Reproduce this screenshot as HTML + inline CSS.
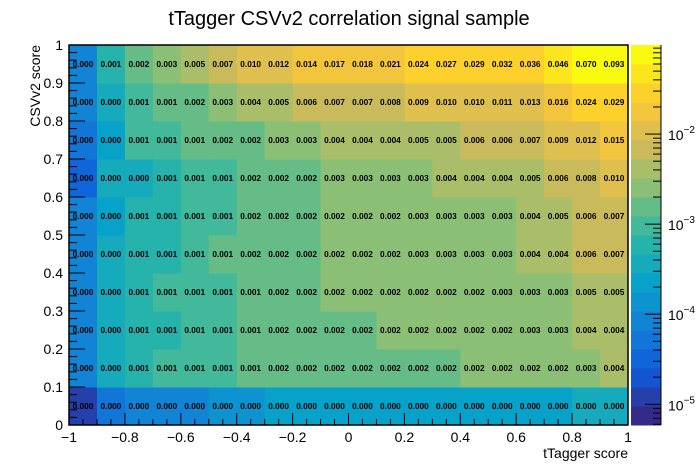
<!DOCTYPE html>
<html><head><meta charset="utf-8"><style>
html,body{margin:0;padding:0;background:#fff;}
svg{display:block;font-family:"Liberation Sans",sans-serif;}
</style></head><body>
<svg id="c" width="698" height="473"></svg>
<script>
const xEdges=[-1,-0.9,-0.8,-0.7,-0.6,-0.5,-0.4,-0.3,-0.2,-0.1,0,0.1,0.2,0.3,0.4,0.5,0.6,0.7,0.8,0.9,1];
const yEdges=[0,0.1,0.2,0.3,0.4,0.5,0.6,0.7,0.8,0.9,1];
const row0=[1.2e-5,5e-5,7e-5,8e-5,9e-5,1.3e-4,1.5e-4,1.8e-4,1.9e-4,2e-4,2e-4,2.2e-4,2.2e-4,2.2e-4,2.2e-4,2.2e-4,2.2e-4,2.2e-4,3e-4,3e-4];
const row1=[8e-5,3e-4,6e-4,8e-4,9e-4,1.0e-3,1.3e-3,1.6e-3,1.7e-3,1.8e-3,1.9e-3,1.9e-3,1.9e-3,2.0e-3,2.2e-3,2.2e-3,2.2e-3,2.4e-3,3e-3,3.6e-3];
const row2=[8e-5,3e-4,6e-4,7e-4,9e-4,1.2e-3,1.4e-3,1.6e-3,1.7e-3,1.8e-3,1.9e-3,2.2e-3,2.2e-3,2.2e-3,2.2e-3,2.3e-3,2.6e-3,3e-3,3.6e-3,4e-3];
const row3=[8e-5,3e-4,6e-4,8e-4,9e-4,1.2e-3,1.4e-3,1.6e-3,1.7e-3,2.1e-3,2.2e-3,2.2e-3,2.2e-3,2.3e-3,2.4e-3,2.6e-3,2.7e-3,3e-3,5e-3,5e-3];
const row4=[8e-5,3e-4,6e-4,7e-4,9e-4,1.3e-3,1.6e-3,1.6e-3,2e-3,2.2e-3,2.2e-3,2.4e-3,2.5e-3,2.6e-3,3e-3,3e-3,4e-3,4e-3,6e-3,7e-3];
const row5=[8e-5,2e-4,6e-4,7e-4,9e-4,1.2e-3,1.6e-3,1.6e-3,1.8e-3,2.1e-3,2.2e-3,2.3e-3,2.6e-3,2.8e-3,3e-3,3e-3,4e-3,5e-3,6e-3,7e-3];
const row6=[3e-5,3e-4,4e-4,7e-4,1.0e-3,1.2e-3,1.6e-3,2e-3,2e-3,3e-3,3e-3,3e-3,3e-3,4e-3,4e-3,4e-3,5e-3,6e-3,8e-3,0.010];
const row7=[5e-5,2e-4,8e-4,1.1e-3,1.3e-3,2e-3,2e-3,3e-3,3e-3,4e-3,4e-3,4e-3,5e-3,5e-3,6e-3,6e-3,7e-3,9e-3,0.012,0.015];
const row8=[8e-5,4e-4,1e-3,1.4e-3,2e-3,3e-3,4e-3,5e-3,6e-3,7e-3,7e-3,8e-3,9e-3,0.010,0.010,0.011,0.013,0.016,0.024,0.029];
const row9=[8e-5,6e-4,2e-3,3e-3,5e-3,7e-3,0.010,0.012,0.014,0.017,0.018,0.021,0.024,0.027,0.029,0.032,0.036,0.046,0.070,0.093];
const rows=[row0,row1,row2,row3,row4,row5,row6,row7,row8,row9];
const xTicks=[-1,-0.8,-0.6,-0.4,-0.2,0,0.2,0.4,0.6,0.8,1];
const xTickLabels=["\u22121","\u22120.8","\u22120.6","\u22120.4","\u22120.2","0","0.2","0.4","0.6","0.8","1"];
const yTicks=[0,0.1,0.2,0.3,0.4,0.5,0.6,0.7,0.8,0.9,1];
const yTickLabels=["0","0.1","0.2","0.3","0.4","0.5","0.6","0.7","0.8","0.9","1"];
const zDecades=[-5,-4,-3,-2];

const NS="http://www.w3.org/2000/svg";
const svg=document.getElementById('c');
const X0=69,X1=628,Y0=425,Y1=45;
const zMin=-5.23,zMax=-1.011;
const sx=v=>X0+(v+1)/2*(X1-X0);
const sy=v=>Y0-v*(Y0-Y1);
const sz=lv=>Y0-(lv-zMin)/(zMax-zMin)*(Y0-Y1);
const stops=[[0.2082,0.1664,0.5293],[0.0592,0.3599,0.8684],[0.0780,0.5041,0.8385],[0.0232,0.6419,0.7914],[0.1802,0.7178,0.6425],[0.5301,0.7492,0.4662],[0.8186,0.7328,0.3499],[0.9956,0.7862,0.1968],[0.9764,0.9832,0.0539]];
const NB=20;
function bandColor(k){
  const t=k/(NB-1)*8;const i=Math.min(7,Math.floor(t));const f=t-i;
  const c=stops[i].map((a,j)=>Math.round(255*(a+(stops[i+1][j]-a)*f)));
  return `rgb(${c[0]},${c[1]},${c[2]})`;
}
function colorFor(v){
  let k=Math.floor((Math.log10(v)-zMin)/(zMax-zMin)*NB);
  k=Math.max(0,Math.min(NB-1,k));return bandColor(k);
}
function el(tag,attrs,parent){const e=document.createElementNS(NS,tag);for(const k in attrs)e.setAttribute(k,attrs[k]);(parent||svg).appendChild(e);return e;}

// cells
const cellsG=el('g',{});


rows.forEach((r,j)=>{r.forEach((v,i)=>{
  const x=sx(xEdges[i]),x2=sx(xEdges[i+1]),y=sy(yEdges[j+1]),y2=sy(yEdges[j]);
  const rc=el('rect',{x:x,y:y,width:x2-x+0.5,height:y2-y+0.5,fill:colorFor(v)},cellsG);
  
  
});});
rows.forEach((r,j)=>{r.forEach((v,i)=>{
  const t=el('text',{x:(sx(xEdges[i])+sx(xEdges[i+1]))/2,y:(sy(yEdges[j])+sy(yEdges[j+1]))/2+3,'text-anchor':'middle','font-size':'8.3','font-weight':'bold',fill:'#000'},cellsG);
  t.textContent=v.toFixed(3);
  
  
});});

// frame
const fr=el('rect',{x:X0,y:Y1,width:X1-X0,height:Y0-Y1,fill:'none',stroke:'#000','stroke-width':1.5});



// x ticks
for(let v=-1;v<=1.0001;v+=0.05){
  const major=Math.abs(Math.round(v*5)-v*5)<1e-6;
  el('line',{x1:sx(v),x2:sx(v),y1:Y0,y2:Y0-(major?12:6),stroke:'#000','stroke-width':1});
}
xTicks.forEach((v,i)=>{
  const t=el('text',{x:sx(v),y:442,'text-anchor':'middle','font-size':'14',fill:'#000'});
  t.textContent=xTickLabels[i];
  
  
});
// y ticks
for(let v=0;v<=1.0001;v+=0.02){
  const major=Math.abs(Math.round(v*10)-v*10)<1e-6;
  el('line',{x1:X0,x2:X0+(major?16:8),y1:sy(v),y2:sy(v),stroke:'#000','stroke-width':1});
}
yTicks.forEach((v,i)=>{
  const t=el('text',{x:63,y:sy(v)+5,'text-anchor':'end','font-size':'14',fill:'#000'});
  t.textContent=yTickLabels[i];
  
  
});

// titles
const ti=el('text',{x:349,y:25,'text-anchor':'middle','font-size':'20',fill:'#000'});
ti.textContent='tTagger CSVv2 correlation signal sample';


const xt=el('text',{x:628,y:458,'text-anchor':'end','font-size':'14',fill:'#000'});
xt.textContent='tTagger score';


const yt=el('text',{x:0,y:0,'text-anchor':'end','font-size':'14',fill:'#000',transform:'translate(40,45) rotate(-90)'});
yt.textContent='CSVv2 score';



// color bar
const cb=el('g',{});


for(let k=0;k<NB;k++){
  const ya=sz(zMin+(k+1)*(zMax-zMin)/NB),yb=sz(zMin+k*(zMax-zMin)/NB);
  el('rect',{x:631,y:ya,width:30,height:yb-ya+0.5,fill:bandColor(k)},cb);
}
el('line',{x1:661,x2:661,y1:Y1,y2:Y0,stroke:'#000','stroke-width':1},cb);
for(let d=-6;d<=-1;d++){for(let m=1;m<=9;m++){
  const lv=d+Math.log10(m);if(lv<zMin||lv>zMax)continue;
  el('line',{x1:661,x2:661-(m===1?16:8),y1:sz(lv),y2:sz(lv),stroke:'#000','stroke-width':1},cb);
}}
zDecades.forEach(d=>{
  const t=el('text',{x:668,y:sz(d)+6,'font-size':'14',fill:'#000'},cb);
  t.textContent='10';
  const s=el('tspan',{dy:'-7','font-size':'10'},t);
  s.textContent='\u2212'+(-d);
  
  
});
</script>
</body></html>
